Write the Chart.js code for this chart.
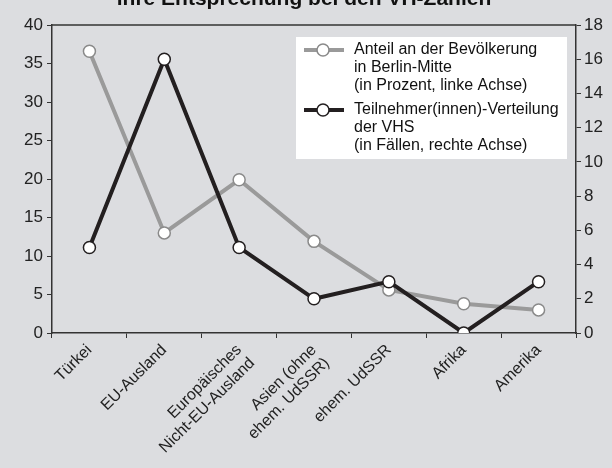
<!DOCTYPE html>
<html>
<head>
<meta charset="utf-8">
<script src="https://cdn.jsdelivr.net/npm/chart.js@4.4.0/dist/chart.umd.min.js"></script>
<style>
  html, body { margin: 0; padding: 0; background: #dcdde0; }
  #wrap { width: 612px; height: 468px; }
</style>
</head>
<body>
<div id="wrap"><canvas id="chart" width="612" height="468"></canvas></div>
<script>
// categories and series
const categories = [
    'Türkei',
    'EU-Ausland',
    ['Europäisches', 'Nicht-EU-Ausland'],
    ['Asien (ohne', 'ehem. UdSSR)'],
    'ehem. UdSSR',
    'Afrika',
    'Amerika'
];
const anteilBevoelkerung = [36.6, 13.0, 19.9, 11.9, 5.6, 3.8, 3.0];   // percent, left axis
const teilnehmerVHS = [5, 16, 5, 2, 3, 0, 3];                          // cases, right axis

const leftTicks = [0, 5, 10, 15, 20, 25, 30, 35, 40];
const rightTicks = [0, 2, 4, 6, 8, 10, 12, 14, 16, 18];

const titleText = 'ihre Entsprechung bei den VH-Zahlen';
const legendAnteil = ['Anteil an der Bevölkerung', 'in Berlin-Mitte', '(in Prozent, linke Achse)'];
const legendVHS = ['Teilnehmer(innen)-Verteilung', 'der VHS', '(in Fällen, rechte Achse)'];

const GRAY = '#9a9a9a';
const DARK = '#231f20';
const FONT = '"Liberation Sans", Arial, sans-serif';

// draws the clipped title, the frame and the inset legend
const decorations = {
    id: 'decorations',
    beforeDraw: function (chart) {
        const ctx = chart.ctx;
        ctx.save();
        ctx.fillStyle = '#dcdde0';
        ctx.fillRect(0, 0, chart.width, chart.height);
        ctx.restore();
    },
    afterDatasetsDraw: function (chart) {
        const ctx = chart.ctx;
        const a = chart.chartArea;
        ctx.save();
        // frame top line
        ctx.strokeStyle = '#333';
        ctx.lineWidth = 1.5;
        ctx.beginPath();
        ctx.moveTo(a.left, a.top);
        ctx.lineTo(a.right, a.top);
        ctx.stroke();

        // title, top part cut off
        ctx.fillStyle = '#111';
        ctx.font = 'bold 21px ' + FONT;
        ctx.textAlign = 'center';
        ctx.textBaseline = 'alphabetic';
        ctx.fillText(titleText, 304, 5);

        // legend box
        const bx = 296, by = 37, bw = 271, bh = 122;
        ctx.fillStyle = '#ffffff';
        ctx.fillRect(bx, by, bw, bh);

        const entries = [
            { ds: chart.data.datasets[0], lines: legendAnteil, y: 50 },
            { ds: chart.data.datasets[1], lines: legendVHS, y: 110 }
        ];
        entries.forEach(function (e) {
            ctx.strokeStyle = e.ds.borderColor;
            ctx.lineWidth = 4;
            ctx.beginPath();
            ctx.moveTo(304, e.y);
            ctx.lineTo(344, e.y);
            ctx.stroke();
            ctx.beginPath();
            ctx.arc(323, e.y, 6, 0, Math.PI * 2);
            ctx.fillStyle = '#ffffff';
            ctx.fill();
            ctx.lineWidth = 1.5;
            ctx.strokeStyle = e.ds.pointBorderColor;
            ctx.stroke();

            ctx.fillStyle = '#111';
            ctx.font = '16px ' + FONT;
            ctx.textAlign = 'left';
            ctx.textBaseline = 'middle';
            e.lines.forEach(function (t, i) {
                ctx.fillText(t, 354, e.y + i * 18);
            });
        });
        ctx.restore();
    }
};

new Chart(document.getElementById('chart'), {
    type: 'line',
    data: {
        labels: categories,
        datasets: [
            {
                label: legendAnteil.join(' '),
                data: anteilBevoelkerung,
                yAxisID: 'y',
                borderColor: GRAY,
                borderWidth: 4,
                pointRadius: 6,
                pointBackgroundColor: '#ffffff',
                pointBorderColor: '#8a8a8a',
                pointBorderWidth: 1.5,
                tension: 0,
                order: 2
            },
            {
                label: legendVHS.join(' '),
                data: teilnehmerVHS,
                yAxisID: 'y1',
                borderColor: DARK,
                borderWidth: 4,
                pointRadius: 6,
                pointBackgroundColor: '#ffffff',
                pointBorderColor: DARK,
                pointBorderWidth: 1.5,
                tension: 0,
                order: 1
            }
        ]
    },
    options: {
        responsive: false,
        animation: false,
        layout: { padding: { top: 25, left: 0, right: 0, bottom: 0 } },
        plugins: {
            legend: { display: false },
            tooltip: { enabled: false }
        },
        scales: {
            x: {
                offset: true,
                grid: {
                    display: true,
                    offset: true,
                    drawOnChartArea: false,
                    color: '#333',
                    tickLength: 5,
                    tickWidth: 1
                },
                border: { display: true, color: '#333', width: 1.5 },
                ticks: {
                    color: '#222',
                    font: { family: FONT, size: 16, lineHeight: 1.15 },
                    maxRotation: 45,
                    minRotation: 45,
                    autoSkip: false,
                    padding: 3
                },
                afterFit: function (scale) { scale.height = 135; }
            },
            y: {
                position: 'left',
                min: 0,
                max: 40,
                afterBuildTicks: function (scale) {
                    scale.ticks = leftTicks.map(v => ({ value: v }));
                },
                grid: { drawOnChartArea: false, color: '#333', tickLength: 5 },
                border: { display: true, color: '#333', width: 1.5 },
                ticks: {
                    color: '#222',
                    font: { family: FONT, size: 17 },
                    padding: 4
                },
                afterFit: function (scale) { scale.width = 52; }
            },
            y1: {
                position: 'right',
                min: 0,
                max: 18,
                afterBuildTicks: function (scale) {
                    scale.ticks = rightTicks.map(v => ({ value: v }));
                },
                grid: { drawOnChartArea: false, color: '#333', tickLength: 5 },
                border: { display: true, color: '#333', width: 1.5 },
                ticks: {
                    color: '#222',
                    font: { family: FONT, size: 17 },
                    padding: 3
                },
                afterFit: function (scale) { scale.width = 36; }
            }
        }
    },
    plugins: [decorations]
});
</script>
</body>
</html>
